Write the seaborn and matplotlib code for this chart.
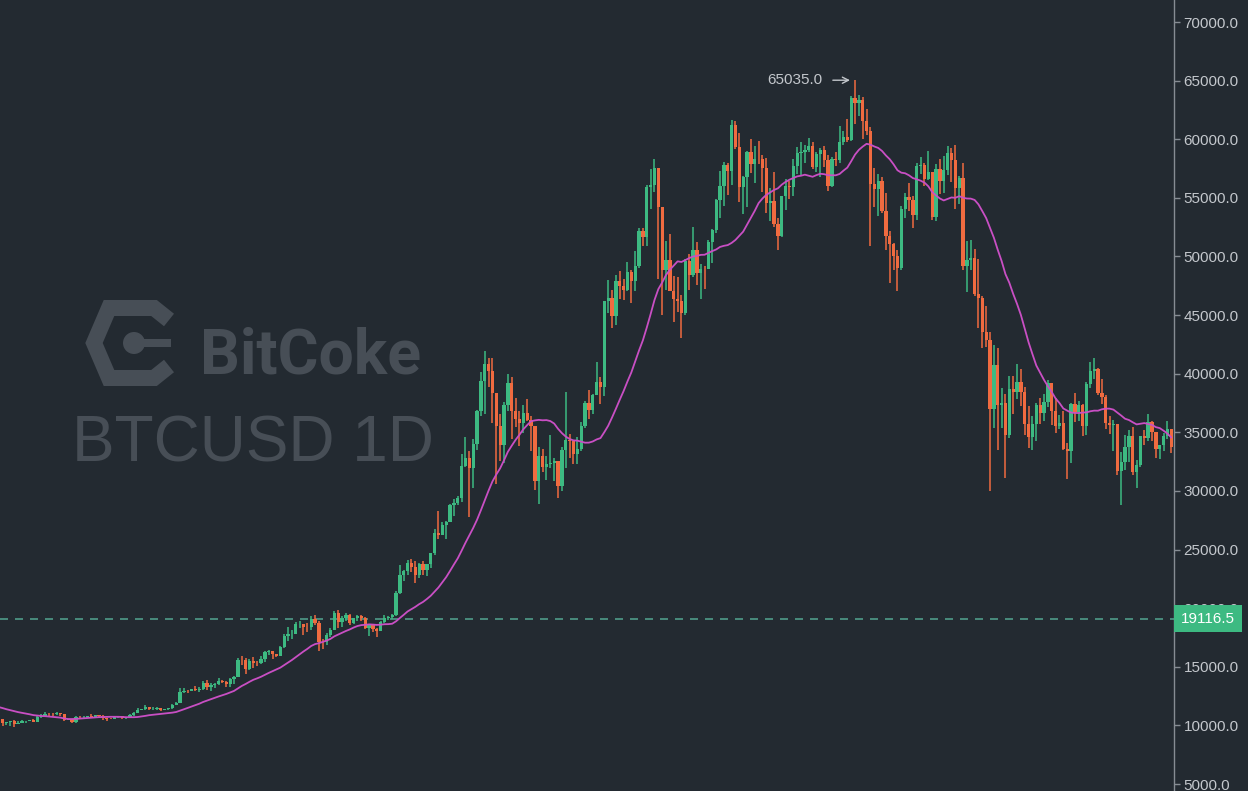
import numpy as np
import pandas as pd
import matplotlib
matplotlib.use("Agg")
import matplotlib.pyplot as plt
import matplotlib.transforms as mtransforms
from matplotlib import font_manager
import seaborn as sns

# ---------------- data (daily BTCUSD, 2020-08-16 .. 2021-07-05) ----------------
start_date = "2020-08-16"
first_open = 11770

closes = [
    11911, 12254, 11991, 11759, 11879, 11592, 11681, 11664, 11774, 11366, 11488, 11323, 11542, 11506, 11711, 11680,
    11970, 11414, 10245, 10511, 10169, 10280, 10369, 10131, 10242, 10363, 10400, 10442, 10323, 10680, 10796, 10974,
    10949, 10944, 11095, 10938, 10463, 10539, 10247, 10737, 10693, 10751, 10775, 10710, 10844, 10784,
    10620, 10575, 10550, 10677, 10793, 10604, 10668, 10915, 11065, 11296, 11384, 11555, 11425, 11429, 11495, 11322,
    11358, 11483, 11742, 11916, 12823, 12965, 12931, 13108, 13031, 13075, 13654, 13271, 13437, 13546, 13781,
    13737, 13550, 13950, 14133, 15579, 15565, 14833, 15479, 15332, 15290, 15701, 16276, 16317, 16068, 15955, 16716,
    17645, 17804, 17817, 18621, 18642, 18370, 18364, 19107, 18732, 17150, 17108, 17718, 18177, 19625,
    18802, 19201, 19445, 18699, 19154, 19345, 19191, 18321, 18553, 18264, 18058, 18803, 19142, 19246, 19417, 21310,
    22805, 23137, 23869, 23477, 22803, 23783, 23241, 23735, 24664, 26437, 26273, 27084, 27362, 28841, 29002,
    29374, 32127, 32782, 31971, 33992, 36824, 39371, 40797, 40254, 38356, 35566, 33922, 37316, 39187, 36825, 36178,
    35792, 36630, 36070, 35548, 30826, 33005, 32067, 32289, 32366, 32569, 30432, 33466, 34316, 34269, 33115,
    33538, 35510, 37473, 36926, 38144, 39266, 38903, 46196, 46481, 44918, 47910, 47504, 47105, 48717, 47945, 49199,
    52149, 51679, 55888, 56099, 57539, 54207, 48824, 49705, 47093, 46339, 46188, 45137,
    49631, 48378, 50538, 48561, 48927, 48912, 51206, 52246, 54824, 56008, 57805, 57332, 61243, 59302, 55907, 56804,
    58870, 57858, 58346, 58313, 57523, 54529, 54738, 52774, 51704, 55137, 55974, 55947, 57750, 58790, 58918,
    59095, 59384, 57604, 58760, 59057, 58192, 56048, 58323, 58245, 59793, 60204, 59893, 63504, 63110, 63314, 61572,
    60683, 56216, 55724, 56473, 53906, 51763, 51094, 50050, 49004, 54021, 55033, 54824, 53555, 57750,
    57828, 56631, 57200, 53333, 57424, 56396, 57356, 58803, 58232, 55859, 56704, 49150, 49716, 49880, 46760, 46456,
    43537, 42909, 37002, 40782, 37304, 37536, 34770, 38705, 38402, 39294, 38436, 35697, 34616, 35678, 37332,
    36684, 37575, 39187, 36825, 35520, 35797, 33552, 33380, 37389, 36702, 37334, 35552, 39098, 40218, 40406, 38347,
    38053, 35787, 35615, 35698, 31676, 32505, 33723, 34662, 31637, 32186, 34650, 34494, 35911, 35041,
    33572, 33897, 34668, 35287, 33747,
]

highs = [
    11990, 12360, 12300, 12020, 11900, 11890, 11690, 11710, 11800, 11780, 11520, 11580, 11560, 11580, 11720, 11760,
    12070, 11980, 11440, 10640, 10560, 10310, 10400, 10440, 10340, 10500, 10410, 10480, 10580, 10760, 10930, 11100,
    11040, 11040, 11160, 11090, 10990, 10570, 10540, 10760, 10770, 10790, 10800, 10940, 10860, 10850,
    10900, 10620, 10600, 10690, 10800, 10800, 10680, 10940, 11100, 11480, 11430, 11700, 11560, 11540, 11540, 11520,
    11390, 11490, 11800, 12000, 13200, 13160, 13010, 13140, 13330, 13240, 13760, 13830, 13610, 13640, 14030,
    13860, 13800, 14060, 14230, 15750, 15950, 15770, 15650, 15800, 15460, 15940, 16320, 16450, 16330, 16120, 16800,
    17760, 18390, 18110, 18780, 18940, 18680, 18750, 19350, 19400, 18910, 17400, 17850, 18270, 19750,
    19850, 19300, 19560, 19510, 19190, 19390, 19380, 19280, 18640, 18560, 18270, 18920, 19390, 19310, 19530, 21460,
    23640, 23240, 24090, 24200, 24060, 23840, 24020, 23790, 24710, 26720, 28290, 27390, 27410, 28900, 29300,
    29600, 33160, 34610, 33440, 34440, 36880, 40180, 41950, 41350, 41340, 38360, 36600, 37600, 40000, 39700, 37900,
    36850, 37300, 37850, 36400, 35550, 33780, 33600, 32940, 34800, 32790, 32580, 33780, 38400, 34830, 34290,
    34600, 35900, 37660, 38590, 38310, 40960, 39690, 46200, 48000, 47150, 48460, 48750, 48090, 49550, 48880, 50450,
    52400, 52450, 56100, 57500, 58350, 57540, 54210, 51300, 51900, 48370, 48250, 46700,
    49780, 50200, 52540, 51270, 49380, 49150, 51380, 52380, 54900, 57260, 58080, 58010, 61680, 61590, 60530, 56830,
    58980, 60000, 59450, 59860, 58660, 58400, 55830, 57200, 53320, 55170, 56570, 56420, 58340, 59360, 59740,
    59470, 60110, 59790, 58910, 59230, 59440, 58650, 58500, 58900, 61100, 60660, 61710, 63700, 65035, 63800, 63590,
    62570, 61060, 57520, 57000, 56760, 55450, 52130, 51170, 50540, 54290, 55420, 56230, 55150, 57960,
    58450, 57940, 58980, 57200, 57900, 58330, 58600, 59460, 59210, 59520, 56860, 57940, 51330, 51440, 50640, 49760,
    46620, 45800, 43550, 42460, 42170, 38790, 38250, 39840, 39780, 40800, 40380, 38860, 37230, 36400, 37470,
    37900, 38230, 39480, 39240, 37900, 36440, 36790, 34070, 37530, 38330, 37690, 37440, 39320, 40980, 41300, 40500,
    39510, 38200, 36430, 36060, 35720, 33300, 34750, 35160, 35430, 32640, 34660, 35190, 36540, 36000,
    35060, 33900, 34900, 35930, 35290,
]

lows = [
    11700, 11860, 11830, 11570, 11700, 11510, 11430, 11540, 11600, 11300, 11290, 11160, 11300, 11460, 11470, 11580,
    11660, 11250, 10200, 10090, 9960, 10060, 9920, 9890, 10110, 10230, 10200, 10360, 10260, 10290, 10640, 10700,
    10750, 10840, 10900, 10820, 10370, 10420, 10200, 10220, 10580, 10660, 10640, 10680, 10650, 10700,
    10490, 10400, 10520, 10540, 10640, 10540, 10570, 10620, 10830, 11060, 11280, 11300, 11300, 11300, 11290, 11260,
    11300, 11350, 11420, 11700, 11900, 12720, 12770, 12900, 12910, 12810, 13060, 12980, 12960, 13150, 13480,
    13620, 13240, 13270, 13530, 14090, 15190, 14420, 14740, 14880, 15090, 15270, 15440, 15990, 15700, 15800, 15880,
    16570, 17200, 17350, 17760, 18320, 17710, 18000, 18170, 18600, 16330, 16530, 16880, 17560, 18170,
    18330, 18350, 18930, 18590, 18640, 18920, 18900, 18260, 17650, 17960, 17570, 18020, 18770, 19000, 19070, 19300,
    21230, 22350, 22830, 23110, 22160, 22600, 22800, 22740, 23460, 24520, 25920, 26280, 25880, 27320, 27850,
    28800, 29090, 32050, 27800, 30220, 33510, 36400, 36570, 38830, 35790, 30550, 32530, 32380, 36800, 34410, 35440,
    33850, 34910, 35950, 33420, 30070, 28850, 31630, 30900, 31950, 30840, 29370, 30020, 31940, 32810, 32300,
    32300, 33420, 35390, 36160, 36600, 38140, 37450, 38080, 45170, 43880, 44190, 46350, 46280, 47060, 45990, 47060,
    48980, 50900, 50880, 54020, 55500, 48100, 45000, 47100, 47050, 44450, 45300, 43020,
    45040, 47120, 48280, 47550, 46400, 47260, 48900, 49410, 51990, 53290, 54290, 55260, 56080, 59160, 54650, 53620,
    54210, 57140, 56280, 57860, 55490, 53750, 53060, 52530, 50550, 51690, 53970, 54890, 55130, 57010, 56870,
    57980, 58900, 57430, 57170, 56790, 57650, 55570, 55950, 57700, 57990, 59520, 59780, 59860, 61300, 62020, 60000,
    60360, 50930, 54220, 53450, 53700, 50580, 47710, 48810, 47050, 48850, 53320, 53890, 52400, 53130,
    57050, 56040, 56500, 53120, 52990, 55320, 55410, 56970, 56340, 54070, 54450, 48850, 46980, 48870, 46660, 43860,
    42200, 42300, 30000, 35350, 33490, 35390, 31110, 34550, 36580, 37870, 37250, 34780, 33690, 33520, 34220,
    35740, 35980, 37190, 35660, 34900, 35260, 33480, 31020, 32400, 35850, 35940, 34650, 34770, 38760, 39510, 38170,
    37440, 35250, 34880, 33430, 31330, 28800, 31770, 32430, 31320, 30210, 32070, 33900, 34280, 34300,
    32770, 32700, 33400, 34400, 33250,
]

ma_window = 20
marked_price = 19116.5
y_ticks = [5000, 10000, 15000, 20000, 25000, 30000, 35000, 40000, 45000, 50000, 55000, 60000, 65000, 70000]
watermark_brand = "BitCoke"
watermark_symbol = "BTCUSD 1D"

# ---------------- frame ----------------
df = pd.DataFrame({
    "date": pd.date_range(start_date, periods=len(closes), freq="D"),
    "close": closes, "high": highs, "low": lows,
})
df["open"] = [first_open] + closes[:-1]
df["idx"] = np.arange(len(df))
df["ma"] = df["close"].rolling(ma_window).mean()
df["up"] = df["close"] >= df["open"]

BG = "#232a31"
GREEN = "#3dba82"
RED = "#f06b40"
MA_COLOR = "#c94fc4"
AXIS_C = "#868c93"
LABEL_C = "#c3c7cc"
WM_C = "#474e56"

sns.set_theme(style="dark", rc={"axes.facecolor": BG, "figure.facecolor": BG,
                                "savefig.facecolor": BG})
plt.rcParams["font.family"] = ["Liberation Sans", "DejaVu Sans"]

W, H = 1248, 791
fig = plt.figure(figsize=(W / 100, H / 100), dpi=100)

# ---------------- watermark (pixel coordinates, behind the chart) ----------------
wm = fig.add_axes([0, 0, 1, 1], zorder=0)
wm.set_xlim(0, W)
wm.set_ylim(H, 0)
wm.axis("off")
wm.set_facecolor("none")
px = 0.72  # points per pixel
wm.plot([169, 154, 109, 94, 109, 154, 169], [320, 308, 308, 343, 378, 378, 366],
        color=WM_C, lw=16 * px, solid_joinstyle="miter", solid_capstyle="butt")
wm.add_patch(plt.Circle((134, 343), 11, color=WM_C, lw=0))
wm.plot([134, 171], [343, 343], color=WM_C, lw=8 * px, solid_capstyle="butt")

names = {f.name for f in font_manager.fontManager.ttflist}
if "Liberation Sans Narrow" in names:
    brand_family, brand_size = ["Liberation Sans Narrow", "DejaVu Sans"], 50
else:
    brand_family, brand_size = ["Roboto", "DejaVu Sans"], 45
wm.text(200, 373, watermark_brand, color=WM_C, fontsize=brand_size, fontweight="bold",
        family=brand_family, ha="left", va="baseline")
wm.text(72, 462, watermark_symbol, color=WM_C, fontsize=46, family=["Liberation Sans", "DejaVu Sans"],
        ha="left", va="baseline")

# ---------------- main chart ----------------
ax = fig.add_axes([0, 0, 1174 / W, 1], zorder=1)
ax.set_facecolor("none")

colors = np.where(df["up"], GREEN, RED)
ax.vlines(df["idx"], df["low"], df["high"], colors=colors, lw=1.1, zorder=2)
body_h = (df["close"] - df["open"]).to_numpy(dtype=float)
ax.bar(df["idx"], body_h, bottom=df["open"], width=0.86, color=colors, lw=0, zorder=3)

sns.lineplot(data=df, x="idx", y="ma", color=MA_COLOR, lw=1.3, ax=ax, zorder=4)

ax.axhline(marked_price, color="#4f9c89", lw=1.2, dashes=(4.8, 4.2), zorder=1.5)

# peak annotation
pk = df["high"].idxmax()
ax.annotate(f"{df.loc[pk, 'high']:.1f}", xy=(df.loc[pk, "idx"] - 1.3, df.loc[pk, "high"]),
            xytext=(df.loc[pk, "idx"] - 8.4, df.loc[pk, "high"]),
            ha="right", va="center", color=LABEL_C, fontsize=11,
            arrowprops=dict(arrowstyle="->", color=LABEL_C, lw=1.0, shrinkA=5, shrinkB=0,
                            mutation_scale=11), zorder=5)

ax.set_xlim(19.32, 323.7)
ax.set_ylim(4403, 71877)
ax.set_xlabel("")
ax.set_ylabel("")
ax.set_xticks([])
ax.yaxis.tick_right()
ax.set_yticks(y_ticks)
ax.set_yticklabels([f"{v:.1f}" for v in y_ticks])
ax.tick_params(axis="y", which="both", right=True, length=4, width=1, color=AXIS_C,
               labelcolor=LABEL_C, labelsize=11, pad=3)
for s in ["left", "top", "bottom"]:
    ax.spines[s].set_visible(False)
ax.spines["right"].set_visible(True)
ax.spines["right"].set_color(AXIS_C)
ax.spines["right"].set_linewidth(1.0)
ax.grid(False)

# marked price label on the axis (covers part of the 20000.0 tick label, as in the source)
tr = mtransforms.blended_transform_factory(ax.transAxes, ax.transData)
tr = mtransforms.offset_copy(tr, fig=fig, x=7, y=0, units="dots")
ax.text(1.0, marked_price, f"{marked_price:.1f}", transform=tr, ha="left", va="center",
        color="white", fontsize=11, zorder=10, clip_on=False,
        bbox=dict(boxstyle="square,pad=0.45", fc=GREEN, ec="none"))

fig.savefig("out.png", dpi=100, facecolor=BG)
